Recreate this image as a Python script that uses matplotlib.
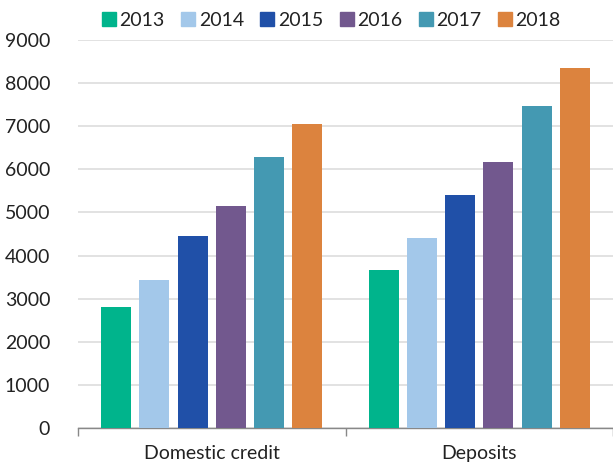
import matplotlib
matplotlib.use("Agg")
import matplotlib.pyplot as plt
from matplotlib.lines import Line2D
import numpy as np

categories = ["Domestic credit", "Deposits"]
years = ["2013", "2014", "2015", "2016", "2017", "2018"]
domestic_credit = [2815, 3440, 4460, 5150, 6275, 7060]
deposits = [3670, 4410, 5410, 6160, 7475, 8350]
colors = ["#00B48C", "#A3C8EA", "#2050A8", "#72588E", "#4499B2", "#DC833E"]
yticks = [0, 1000, 2000, 3000, 4000, 5000, 6000, 7000, 8000, 9000]

plt.rcParams["font.family"] = ["Lato", "DejaVu Sans"]

fig = plt.figure(figsize=(6.13, 4.66), dpi=100)
ax = fig.add_axes([78 / 613, 1 - 428 / 466, 1 - 78 / 613, (428 - 40) / 466])

values = np.array([domestic_credit, deposits])
pitch = 0.143
width = 0.112
centers = np.arange(len(categories)) + 0.5
for i, (yr, col) in enumerate(zip(years, colors)):
    offs = (i - 2.5) * pitch
    ax.bar(centers + offs, values[:, i], width=width, color=col, label=yr, zorder=3)

ax.set_xlim(0, 2)
ax.set_ylim(0, 9000)
ax.set_yticks(yticks)
ax.set_yticklabels([str(v) for v in yticks], fontsize=14, color="#222222")
ax.tick_params(axis="y", length=0, pad=20)
ax.yaxis.grid(True, color="#DDDDDD", linewidth=1.2, zorder=0)
ax.set_axisbelow(True)

ax.set_xticks(centers)
ax.set_xticklabels(categories, fontsize=14, color="#222222")
ax.tick_params(axis="x", which="major", length=0, pad=12)
ax.set_xticks([0, 1, 2], minor=True)
ax.tick_params(axis="x", which="minor", length=6, color="#888888", width=1)

for s in ["left", "right", "top"]:
    ax.spines[s].set_visible(False)
ax.spines["bottom"].set_color("#888888")
ax.spines["bottom"].set_linewidth(1)

handles = [Line2D([], [], marker="s", linestyle="none", markersize=10,
                  markerfacecolor=c, markeredgecolor=c) for c in colors]
fig.legend(handles, years, loc="center", bbox_to_anchor=(331 / 613, 1 - 20 / 466),
           ncol=6, frameon=False, fontsize=14, handlelength=0.8,
           handletextpad=0.15, columnspacing=0.8, labelcolor="#222222")

fig.savefig("out.png", dpi=100)
